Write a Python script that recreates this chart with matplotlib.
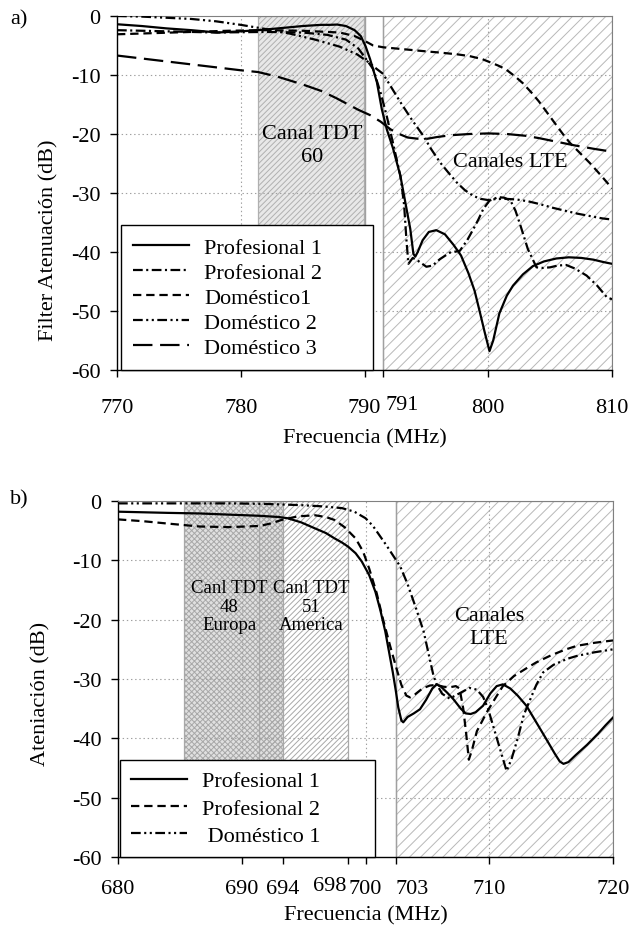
import matplotlib
matplotlib.use("Agg")
import matplotlib.pyplot as plt
import matplotlib.transforms as mtransforms

plt.rcParams['font.family'] = ['Liberation Serif', 'DejaVu Serif']
plt.rcParams['axes.unicode_minus'] = False
plt.rcParams['lines.scale_dashes'] = False
plt.rcParams['hatch.linewidth'] = 0.7

# ---------------- panel a) : 770-810 MHz ----------------
f_p1_a = [770, 772, 774, 776, 778.1, 780, 781.4, 783, 785, 786.5, 787.2, 787.8, 788.5, 789.2,
          789.7, 790.1, 790.45, 791.0, 791.4, 791.8, 792.3, 792.9, 793.3, 793.7, 793.95, 794.1,
          794.3, 794.7, 795.2, 795.8, 796.5, 797.2, 797.8, 798.4, 798.9, 799.3, 799.7, 800.1,
          800.4, 800.9, 801.5, 802.0, 802.8, 803.6, 804.5, 805.5, 806.5, 807.5, 808.5, 809.3, 810]
db_p1_a = [-1.4, -1.7, -2.1, -2.4, -2.8, -2.6, -2.4, -2.1, -1.7, -1.5, -1.5, -1.45, -1.7, -2.4,
           -3.4, -5.2, -7.3, -11.2, -15.8, -19.2, -22.4, -27.1, -31.6, -36.1, -40.3, -40.8,
           -40.0, -38.0, -36.6, -36.3, -37.0, -38.8, -40.6, -43.6, -46.6, -50.0, -53.5, -56.8,
           -55.0, -50.4, -47.4, -45.7, -43.8, -42.4, -41.6, -41.1, -40.9, -41.0, -41.3, -41.7, -42.0]

f_p2_a = [770, 774, 778, 782, 785, 787, 788.5, 789.5, 790.2, 790.7, 791.3, 791.8, 792.3, 792.9,
          793.2, 793.4, 793.55, 793.9, 794.4, 795.0, 795.5, 796.1, 796.9, 797.7, 798.3, 798.8,
          799.2, 799.6, 800.1, 800.8, 801.3, 801.8, 802.2, 802.6, 802.9, 803.2, 803.9, 804.4,
          805.0, 805.6, 806.3, 807.0, 807.95, 808.8, 809.6, 810]
db_p2_a = [-2.4, -2.6, -2.8, -2.7, -2.8, -3.2, -4.0, -5.5, -7.5, -9.0, -13.0, -17.0, -21.5, -27.1,
           -32.0, -38.3, -42.0, -41.0, -41.6, -42.5, -42.3, -41.2, -40.1, -39.8, -38.0, -36.1,
           -34.5, -32.7, -31.3, -30.7, -30.8, -31.3, -33.0, -35.5, -37.5, -39.5, -42.6, -42.7,
           -42.6, -42.3, -42.2, -42.8, -44.0, -45.7, -47.7, -48.0]

f_d1_a = [770, 773, 776, 779, 782, 785, 788, 789.2, 790, 790.7, 791.5, 793, 795, 796.1, 797.5,
          798.5, 799.5, 800.1, 800.8, 801.4, 802.2, 802.8, 803.5, 804.1, 804.8, 805.5, 806.1,
          806.6, 807.4, 808.2, 809.1, 810]
db_d1_a = [-3.1, -2.9, -2.7, -2.5, -2.4, -2.5, -2.8, -3.4, -4.2, -5.0, -5.3, -5.6, -6.0, -6.2, -6.5,
           -6.8, -7.3, -7.8, -8.4, -9.0, -10.3, -11.4, -13.0, -14.5, -16.5, -18.5, -20.2,
           -21.5, -23.2, -24.9, -27.0, -29.2]

f_d2_a = [770, 772, 774, 776, 778, 780, 782, 784, 786, 788, 789.4, 790.3, 791, 791.5, 792.2,
          792.9, 793.8, 794.75, 795.4, 796.1, 796.8, 797.45, 798.1, 798.8, 799.4, 800.0, 800.7,
          801.5, 802.3, 803.2, 804.2, 805.2, 806.2, 807.2, 808.2, 809.2, 810]
db_d2_a = [0.0, -0.1, -0.3, -0.5, -0.9, -1.5, -2.2, -3.0, -4.0, -5.2, -6.5, -7.8, -9.0, -9.8, -12.2,
           -14.6, -17.5, -20.3, -22.6, -24.8, -26.6, -28.2, -29.5, -30.5, -31.0, -31.2, -31.0,
           -31.0, -31.1, -31.4, -31.9, -32.5, -33.0, -33.5, -33.9, -34.3, -34.5]

f_d3_a = [770, 772, 774, 776, 778, 780, 781.4, 783, 785, 786.5, 787.7, 788.6, 789.5, 790.45,
          791.3, 792.1, 792.8, 793.5, 794.3, 795.1, 795.9, 797, 798.5, 800, 801.5, 803, 804.1,
          805.5, 806.9, 808.5, 810]
db_d3_a = [-6.7, -7.2, -7.7, -8.2, -8.7, -9.2, -9.5, -10.3, -11.6, -12.7, -13.9, -14.9, -15.9,
           -16.8, -17.9, -19.2, -20.0, -20.6, -20.8, -20.8, -20.5, -20.2, -20.0, -19.9, -20.0,
           -20.3, -20.7, -21.3, -21.9, -22.5, -23.0]

labels_a = ['Profesional 1', 'Profesional 2', 'Doméstico1', 'Doméstico 2', 'Doméstico 3']
band_tdt_a = (781.4, 790.0)
band_lte_a = (791.5, 810.0)
xticks_a = [770, 780, 790, 791.5, 800, 810]
xticklabels_a = ['770', '780', '790', '791', '800', '810']

# ---------------- panel b) : 680-720 MHz ----------------
f_p1_b = [680, 682, 684, 686.6, 689, 691.5, 693, 693.7, 694.8, 695.9, 696.8, 697.5, 698.1, 698.6,
          699.2, 699.7, 700.3, 700.8, 701.2, 701.6, 701.9, 702.2, 702.45, 702.65, 702.9, 703.05,
          703.4, 703.9, 704.4, 704.9, 705.4, 705.75, 706.1, 706.6, 707.1, 707.7, 708.1, 708.5,
          708.9, 709.5, 710.1, 710.6, 711.1, 711.7, 712.3, 713.0, 713.8, 714.6, 715.3, 715.7,
          716.0, 716.4, 717.0, 717.9, 718.8, 719.4, 720]
db_p1_b = [-1.8, -1.9, -2.0, -2.1, -2.3, -2.5, -2.7, -2.9, -3.6, -4.6, -5.4, -6.3, -7.0, -7.7,
           -8.8, -10.2, -12.5, -15.3, -18.4, -22.0, -25.4, -28.8, -32.0, -34.8, -37.0, -37.3,
           -36.4, -35.8, -35.1, -33.5, -31.6, -30.9, -31.3, -32.3, -33.4, -35.0, -35.8, -35.9,
           -35.6, -34.5, -32.4, -31.2, -30.9, -31.6, -32.8, -34.5, -37.3, -40.1, -42.6, -43.9,
           -44.3, -44.0, -42.8, -41.1, -39.2, -37.8, -36.5]

f_p2_b = [680, 682, 684, 686.6, 689, 691.5, 692.5, 693.2, 694.5, 695.9, 696.8, 697.5, 698.3,
          699.2, 699.8, 700.3, 700.9, 701.4, 702.0, 702.5, 702.9, 703.3, 703.6, 704.0, 704.6,
          705.2, 705.75, 706.3, 706.8, 707.3, 707.6, 707.9, 708.15, 708.35, 708.6, 709.0, 709.8,
          710.5, 711.1, 712, 713.0, 713.8, 715.0, 716.2, 717.1, 718.5, 720]
db_p2_b = [-3.1, -3.4, -3.8, -4.3, -4.4, -4.2, -3.7, -3.2, -2.6, -2.4, -2.7, -3.2, -4.4,
           -6.3, -8.5, -11.4, -15.5, -19.8, -24.5, -28.2, -31.0, -32.8, -33.1, -32.6, -31.6,
           -31.1, -31.0, -31.3, -31.4, -31.2, -31.6, -35.0, -39.5, -43.6, -42.0, -38.8, -35.6,
           -33.2, -31.2, -29.5, -28.2, -27.2, -26.0, -25.0, -24.4, -23.9, -23.5]

f_d1_b = [680, 684, 689.3, 692, 694.8, 696.5, 698.1, 699.1, 700.0, 700.6, 701.1, 701.7, 702.2,
          702.8, 703.4, 704.1, 704.7, 705.2, 705.5, 705.75, 706.2, 706.8, 707.7, 708.4, 709.0,
          709.5, 709.9, 710.4, 710.9, 711.4, 711.8, 712.3, 712.8, 713.3, 713.8, 714.35, 715.2,
          716.3, 717.1, 718.5, 720]
db_d1_b = [-0.4, -0.4, -0.4, -0.5, -0.7, -0.9, -1.2, -1.8, -2.9, -4.2, -5.7, -7.5, -9.1,
           -11.0, -14.0, -18.2, -22.0, -26.7, -29.5, -30.9, -32.5, -33.3, -32.3, -31.5, -31.8,
           -33.0, -35.0, -38.5, -42.0, -45.5, -43.5, -40.0, -36.0, -33.5, -31.0, -28.9, -27.6,
           -26.6, -26.1, -25.5, -25.0]

labels_b = ['Profesional 1', 'Profesional 2', ' Doméstico 1']
band_eu_b = (685.3, 693.3)
band_am_b = (691.4, 698.6)
band_lte_b = (702.5, 720.0)
xticks_b = [680, 690, 693.3, 698.6, 700, 702.5, 710, 720]
xticklabels_b = ['680', '690', '694', '698', '700', '703', '710', '720']

yticks = [0, -10, -20, -30, -40, -50, -60]

W, H = 631, 937
fig = plt.figure(figsize=(W / 100, H / 100), dpi=100)

def px_axes(l, t, r, b):
    return fig.add_axes([l / W, 1 - b / H, (r - l) / W, (b - t) / H])

ax_a = px_axes(117, 17, 612, 371)
ax_b = px_axes(118, 502, 613, 858)

styles_a = [
    dict(color='black', lw=1.6, linestyle='-'),
    dict(color='black', lw=1.6, dashes=(7, 2.5, 1.5, 2.5)),
    dict(color='black', lw=1.6, dashes=(6, 3.5)),
    dict(color='black', lw=1.6, dashes=(7, 2.5, 1.5, 2.5, 1.5, 2.5)),
    dict(color='black', lw=1.6, dashes=(14, 5.5)),
]
styles_b = [styles_a[0], styles_a[2], styles_a[3]]

grid_kw = dict(color='#a0a0a0', lw=0.8, linestyle=(0, (1, 2)), zorder=2)


def setup(ax, xlim, xticks, xticklabels, vgrid, xpad):
    ax.set_xlim(*xlim)
    ax.set_ylim(-60, 0)
    ax.set_yticks(yticks)
    ax.set_xticks(xticks)
    ax.set_xticklabels(xticklabels)
    for y in yticks[1:-1]:
        ax.axhline(y, **grid_kw)
    for x in vgrid:
        ax.axvline(x, **grid_kw)
    ax.tick_params(axis='both', direction='out', length=5, width=1, labelsize=16)
    ax.tick_params(axis='x', pad=xpad)
    ax.tick_params(axis='y', pad=7)
    ax.spines['top'].set_color('#808080')
    ax.spines['right'].set_color('#808080')
    for s in ('left', 'bottom'):
        ax.spines[s].set_linewidth(1.0)
    ax.set_facecolor('white')


def shift_label(ax, idx, dx, dy):
    lab = ax.get_xticklabels()[idx]
    off = mtransforms.ScaledTranslation(dx / 100, dy / 100, fig.dpi_scale_trans)
    lab.set_transform(lab.get_transform() + off)


def boxed_legend(ax, x0, x1, spacing, pad):
    leg = ax.legend(loc='lower left', bbox_to_anchor=(x0, 0.0, x1 - x0, 0.1), mode='expand',
                    borderaxespad=0, fontsize=16, handlelength=2.5, handletextpad=0.7,
                    labelspacing=spacing, borderpad=pad, fancybox=False, framealpha=1,
                    edgecolor='black')
    leg.get_frame().set_linewidth(1.0)
    leg.set_zorder(5)
    return leg


# panel a
setup(ax_a, (770, 810), xticks_a, xticklabels_a, [780, 800], 15)
ax_a.axvspan(*band_tdt_a, facecolor='#e8e8e8', edgecolor='#b0b0b0', hatch='//////', lw=0.9, zorder=1)
ax_a.axvspan(*band_lte_a, facecolor='white', edgecolor='#b8b8b8', hatch='///', lw=0.9, zorder=1)
ax_a.axvline(band_tdt_a[1], color='#a0a0a0', lw=1.0, zorder=2)
ax_a.axvline(band_lte_a[0], color='#a0a0a0', lw=1.0, zorder=2)

series_a = [(f_p1_a, db_p1_a), (f_p2_a, db_p2_a), (f_d1_a, db_d1_a), (f_d2_a, db_d2_a), (f_d3_a, db_d3_a)]
for (fx, dy), lab, st in zip(series_a, labels_a, styles_a):
    ax_a.plot(fx, dy, label=lab, zorder=3, **st)

ax_a.text(785.8, -21.9, 'Canal TDT\n60', ha='center', va='center', fontsize=16, linespacing=1.3, zorder=4)
ax_a.text(801.8, -24.6, 'Canales LTE', ha='center', va='center', fontsize=16, zorder=4)

boxed_legend(ax_a, 0.008, 0.517, 0.2, 0.55)
shift_label(ax_a, 3, 19, 3)

# panel b
setup(ax_b, (680, 720), xticks_b, xticklabels_b, [690, 700, 710], 11)
ax_b.axvspan(*band_eu_b, facecolor='#e0e0e0', edgecolor='#a8a8a8', hatch='xxxxxx', lw=0.9, zorder=1)
ax_b.axvspan(*band_am_b, facecolor='none', edgecolor='#a8a8a8', hatch='//////', lw=0.9, zorder=1)
ax_b.axvspan(*band_lte_b, facecolor='white', edgecolor='#b8b8b8', hatch='///', lw=0.9, zorder=1)
ax_b.axvline(band_lte_b[0], color='#a0a0a0', lw=1.0, zorder=2)

series_b = [(f_p1_b, db_p1_b), (f_p2_b, db_p2_b), (f_d1_b, db_d1_b)]
for (fx, dy), lab, st in zip(series_b, labels_b, styles_b):
    ax_b.plot(fx, dy, label=lab, zorder=3, **st)

ax_b.text(689.0, -17.7, 'Canl TDT\n48\nEuropa', ha='center', va='center', fontsize=13.5, linespacing=1.15, zorder=4)
ax_b.text(695.6, -17.7, 'Canl TDT\n51\nAmerica', ha='center', va='center', fontsize=13.5, linespacing=1.15, zorder=4)
ax_b.text(710.0, -21.3, 'Canales\nLTE', ha='center', va='center', fontsize=16, linespacing=1.3, zorder=4)

boxed_legend(ax_b, 0.004, 0.519, 0.3, 0.5)
shift_label(ax_b, 3, -18, 3)
shift_label(ax_b, 5, 16, 0)

# axis titles and panel tags
fig.text(364.5 / W, 1 - 439 / H, 'Frecuencia (MHz)', ha='center', va='center', fontsize=16)
fig.text(365.5 / W, 1 - 916 / H, 'Frecuencia (MHz)', ha='center', va='center', fontsize=16)
fig.text(49 / W, 1 - 240 / H, 'Filter Atenuación (dB)', ha='center', va='center', rotation=90, fontsize=16)
fig.text(41 / W, 1 - 694 / H, 'Ateniación (dB)', ha='center', va='center', rotation=90, fontsize=16)
fig.text(19 / W, 1 - 20 / H, 'a)', ha='center', va='center', fontsize=16)
fig.text(19 / W, 1 - 500 / H, 'b)', ha='center', va='center', fontsize=16)

fig.savefig('out.png', dpi=100, facecolor='white')
